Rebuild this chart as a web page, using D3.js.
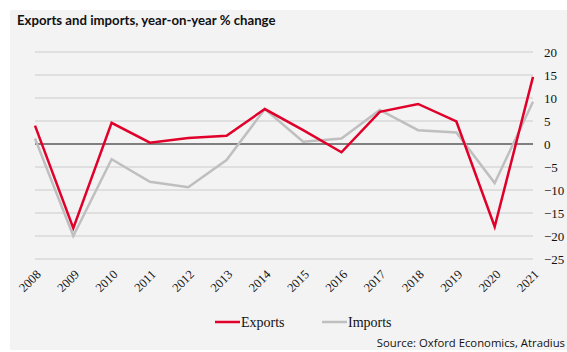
<!DOCTYPE html>
<html>
<head>
<meta charset="utf-8">
<script src="https://cdn.jsdelivr.net/npm/d3@7"></script>
<style>
  body { margin: 0; background: #fff; }
  svg { display: block; }
</style>
</head>
<body>
<svg id="chart" width="567" height="352"></svg>
<script>
// data
const years = ["2008", "2009", "2010", "2011", "2012", "2013", "2014", "2015", "2016", "2017", "2018", "2019", "2020", "2021"];
const exportsChange = [4.0, -18.3, 4.6, 0.3, 1.3, 1.8, 7.6, 3.0, -1.8, 7.0, 8.7, 4.9, -18.0, 14.6];
const importsChange = [1.2, -20.0, -3.3, -8.2, -9.4, -3.5, 7.6, 0.5, 1.2, 7.4, 3.0, 2.5, -8.5, 9.2];
const yTicks = [20, 15, 10, 5, 0, -5, -10, -15, -20, -25];

const svg = d3.select("#chart");

// grey panel
svg.append("rect")
    .attr("x", 10).attr("y", 10)
    .attr("width", 557).attr("height", 340)
    .attr("fill", "#f3f3f3");

// title
svg.append("text")
    .attr("x", 17).attr("y", 25)
    .attr("font-family", "Lato, 'Open Sans', sans-serif")
    .attr("font-weight", "bold")
    .attr("font-size", 13.2)
    .attr("fill", "#111")
    .text("Exports and imports, year-on-year % change");

const x = d3.scalePoint().domain(years).range([35, 533]);
const y = d3.scaleLinear().domain([-25, 20]).range([259, 52]);

// gridlines
svg.append("g")
    .selectAll("line")
    .data(yTicks.filter(d => d !== 0))
    .enter().append("line")
    .attr("x1", 35).attr("x2", 533)
    .attr("y1", d => y(d)).attr("y2", d => y(d))
    .attr("stroke", "#d9d9d9")
    .attr("stroke-width", 1.3);

// y axis on the right
const yAxis = svg.append("g")
    .attr("transform", "translate(533,0)")
    .call(d3.axisRight(y).tickValues(yTicks).tickSize(0).tickPadding(11).tickFormat(d3.format("d")));
yAxis.select(".domain").remove();
yAxis.selectAll("text")
    .attr("font-family", "'Liberation Serif', 'Times New Roman', serif")
    .attr("font-size", 13)
    .attr("fill", "#111");

// x axis labels, rotated
const xAxis = svg.append("g")
    .attr("transform", "translate(0,269)")
    .call(d3.axisBottom(x).tickSize(0).tickPadding(0));
xAxis.select(".domain").remove();
xAxis.selectAll("text")
    .attr("font-family", "'Liberation Serif', 'Times New Roman', serif")
    .attr("font-size", 12.5)
    .attr("fill", "#111")
    .attr("text-anchor", "end")
    .attr("dy", "0.7em")
    .attr("transform", "rotate(-45)");

// zero line
svg.append("line")
    .attr("x1", 35).attr("x2", 533)
    .attr("y1", y(0)).attr("y2", y(0))
    .attr("stroke", "#595959")
    .attr("stroke-width", 1.5);

const line = d3.line()
    .x((d, i) => x(years[i]))
    .y(d => y(d));

svg.append("path")
    .datum(importsChange)
    .attr("d", line)
    .attr("fill", "none")
    .attr("stroke", "#bfbfbf")
    .attr("stroke-width", 2.5);

svg.append("path")
    .datum(exportsChange)
    .attr("d", line)
    .attr("fill", "none")
    .attr("stroke", "#e0002a")
    .attr("stroke-width", 2.5);

// legend
const legend = [
    { name: "Exports", color: "#e0002a", x: 215 },
    { name: "Imports", color: "#bfbfbf", x: 322 }
];
const lg = svg.append("g").selectAll("g")
    .data(legend)
    .enter().append("g")
    .attr("transform", d => `translate(${d.x},322)`);
lg.append("line")
    .attr("x1", 0).attr("x2", 25)
    .attr("stroke", d => d.color)
    .attr("stroke-width", 2.5);
lg.append("text")
    .attr("x", 26).attr("y", 5)
    .attr("font-family", "'Liberation Serif', 'Times New Roman', serif")
    .attr("font-size", 14)
    .attr("fill", "#111")
    .text(d => d.name);

// source note (kept fully inside the frame)
svg.append("text")
    .attr("x", 565).attr("y", 347)
    .attr("text-anchor", "end")
    .attr("font-family", "'Open Sans', sans-serif")
    .attr("font-size", 11.3)
    .attr("fill", "#111")
    .text("Source: Oxford Economics, Atradius");
</script>
</body>
</html>
